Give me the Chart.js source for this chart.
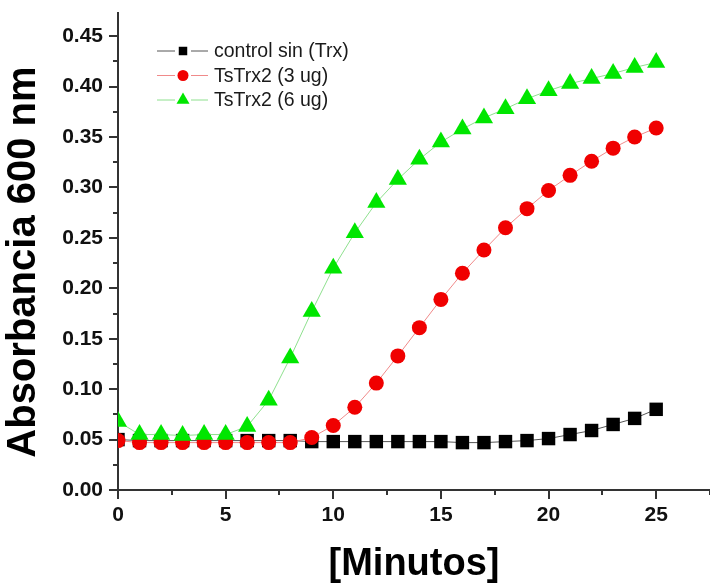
<!DOCTYPE html>
<html>
<head>
<meta charset="utf-8">
<script src="https://cdn.jsdelivr.net/npm/chart.js@4.4.1/dist/chart.umd.min.js"></script>
<style>
  html, body { margin: 0; padding: 0; background: #fff; }
  #wrap { width: 710px; height: 587px; }
</style>
</head>
<body>
<div id="wrap"><canvas id="absChart" width="710" height="587"></canvas></div>
<script>
// minutes 0..25
const minutos = [0, 1, 2, 3, 4, 5, 6, 7, 8, 9, 10, 11, 12, 13, 14, 15, 16, 17, 18, 19, 20, 21, 22, 23, 24, 25];

const controlSinTrx = [0.050, 0.049, 0.049, 0.049, 0.049, 0.049, 0.049, 0.049, 0.049, 0.048, 0.048, 0.048, 0.048, 0.048, 0.048,
  0.048, 0.047, 0.047, 0.048, 0.049, 0.051, 0.055, 0.059, 0.065, 0.071, 0.080];
const tsTrx2_3ug = [0.049, 0.047, 0.047, 0.047, 0.047, 0.047, 0.047, 0.047, 0.047, 0.052, 0.064, 0.082, 0.106, 0.133, 0.161,
  0.189, 0.215, 0.238, 0.260, 0.279, 0.297, 0.312, 0.326, 0.339, 0.350, 0.359];
const tsTrx2_6ug = [0.068, 0.055, 0.055, 0.054, 0.055, 0.055, 0.063, 0.089, 0.131, 0.177, 0.220, 0.255, 0.285, 0.308, 0.328,
  0.345, 0.358, 0.369, 0.378, 0.388, 0.396, 0.403, 0.408, 0.413, 0.419, 0.424];

const seriesNames = ["control sin (Trx)", "TsTrx2 (3 ug)", "TsTrx2 (6 ug)"];
const yTitle = "Absorbancia 600 nm";

function pts(ys) {
  return minutos.map((m, i) => ({ x: m, y: ys[i] }));
}

function isMajor(v, step) {
  return Math.abs(v / step - Math.round(v / step)) < 1e-6;
}

Chart.defaults.font.family = "'Liberation Sans', Arial, sans-serif";
Chart.defaults.color = "#111";

// major / minor tick marks drawn outward, Origin style
const tickMarks = {
  id: "tickMarks",
  afterDraw(chart) {
    const ctx = chart.ctx;
    const xs = chart.scales.x, ys = chart.scales.y;
    ctx.save();
    ctx.strokeStyle = "#333";
    ctx.lineWidth = 2;
    ctx.beginPath();
    xs.ticks.forEach(t => {
      const px = Math.round(xs.getPixelForValue(t.value));
      const len = isMajor(t.value, 5) ? 9 : 5;
      ctx.moveTo(px, xs.top);
      ctx.lineTo(px, xs.top + len);
    });
    ys.ticks.forEach(t => {
      const py = Math.round(ys.getPixelForValue(t.value));
      const len = isMajor(t.value, 0.05) ? 9 : 5;
      ctx.moveTo(ys.right, py);
      ctx.lineTo(ys.right - len, py);
    });
    ctx.stroke();

    // y title, sits a little below the axis centre in the original
    ctx.translate(24, 262);
    ctx.rotate(-Math.PI / 2);
    ctx.fillStyle = "#000";
    ctx.font = "bold 40px 'Liberation Sans', Arial, sans-serif";
    ctx.textAlign = "center";
    ctx.textBaseline = "middle";
    ctx.fillText(yTitle, 0, 0);
    ctx.restore();
  }
};

// legend inside the plot, line - marker - line
const legendBox = {
  id: "legendBox",
  afterDraw(chart) {
    const ctx = chart.ctx;
    const sizes = [6, 5.5, 7.5];
    chart.data.datasets.forEach((ds, i) => {
      const y = 51 + i * 24.5;
      ctx.save();
      ctx.strokeStyle = ds.borderColor;
      ctx.lineWidth = 1;
      ctx.beginPath();
      ctx.moveTo(157, y); ctx.lineTo(175, y);
      ctx.moveTo(191, y); ctx.lineTo(208, y);
      ctx.stroke();
      ctx.fillStyle = ds.pointBackgroundColor;
      Chart.helpers.drawPoint(ctx, { pointStyle: ds.pointStyle, radius: sizes[i], borderWidth: 0, rotation: 0 }, 183, y);
      ctx.fillStyle = "#1a1a1a";
      ctx.font = "19.5px 'Liberation Sans', Arial, sans-serif";
      ctx.textBaseline = "middle";
      ctx.fillText(ds.label, 214, y + 1);
      ctx.restore();
    });
  }
};

new Chart(document.getElementById("absChart"), {
  type: "line",
  data: {
    datasets: [
      {
        label: seriesNames[0],
        data: pts(controlSinTrx),
        borderColor: "#555",
        borderWidth: 1,
        pointStyle: "rect",
        pointRadius: 9.5,
        pointBackgroundColor: "#000",
        pointBorderWidth: 0,
        order: 3
      },
      {
        label: seriesNames[1],
        data: pts(tsTrx2_3ug),
        borderColor: "#f08a8a",
        borderWidth: 1,
        pointStyle: "circle",
        pointRadius: 7.5,
        pointBackgroundColor: "#f00000",
        pointBorderWidth: 0,
        order: 2
      },
      {
        label: seriesNames[2],
        data: pts(tsTrx2_6ug),
        borderColor: "#8ee08e",
        borderWidth: 1,
        pointStyle: "triangle",
        pointRadius: 10.5,
        pointBackgroundColor: "#00e600",
        pointBorderWidth: 0,
        order: 1
      }
    ]
  },
  options: {
    responsive: false,
    animation: false,
    devicePixelRatio: 1,
    layout: { autoPadding: false, padding: { top: 13, right: 0, left: 0, bottom: 0 } },
    plugins: {
      legend: { display: false },
      tooltip: { enabled: false }
    },
    scales: {
      x: {
        type: "linear",
        min: 0,
        max: 27.5,
        afterFit(scale) {
          scale.height = 97;
          scale.paddingLeft = 0;
          scale.paddingRight = 0;
        },
        border: { display: true, color: "#333", width: 2 },
        grid: { display: false, drawTicks: true, tickLength: 9 },
        ticks: {
          stepSize: 2.5,
          includeBounds: false,
          autoSkip: false,
          maxRotation: 0,
          padding: 4,
          color: "#111",
          font: { size: 21, weight: "bold" },
          callback: v => (isMajor(v, 5) && v <= 25 ? String(v) : "")
        },
        title: {
          display: true,
          text: "[Minutos]",
          color: "#000",
          padding: 0,
          font: { size: 38, weight: "bold" }
        }
      },
      y: {
        min: 0,
        max: 0.473,
        afterFit(scale) {
          scale.width = 118;
          scale.paddingTop = 0;
          scale.paddingBottom = 0;
        },
        border: { display: true, color: "#333", width: 2 },
        grid: { display: false, drawTicks: true, tickLength: 9 },
        ticks: {
          stepSize: 0.025,
          includeBounds: false,
          autoSkip: false,
          padding: 6,
          color: "#111",
          font: { size: 21, weight: "bold" },
          callback: v => (isMajor(v, 0.05) ? v.toFixed(2) : "")
        },
        title: { display: false }
      }
    }
  },
  plugins: [tickMarks, legendBox]
});
</script>
</body>
</html>
